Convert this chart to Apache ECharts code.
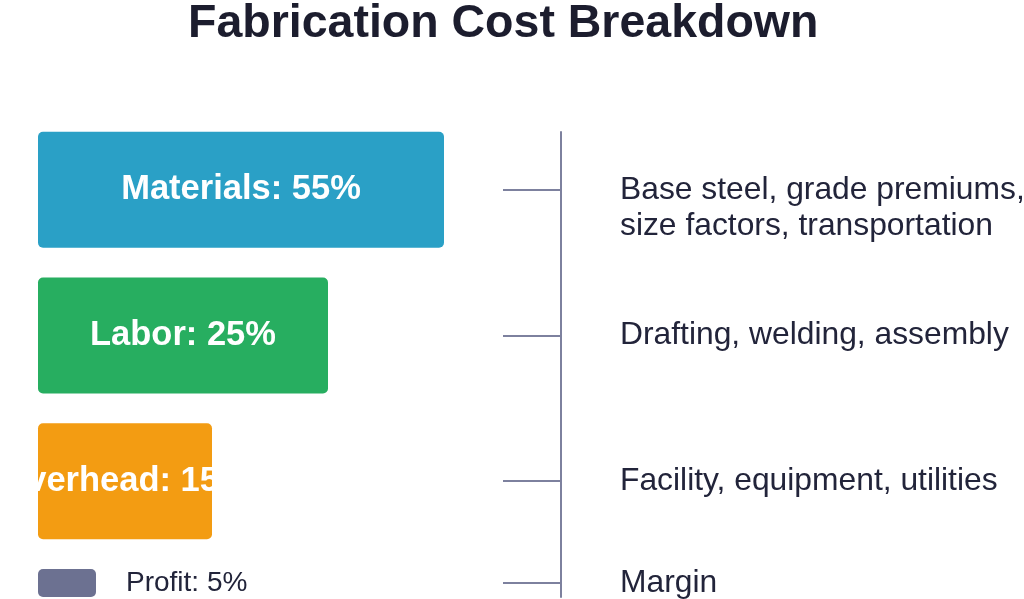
<!DOCTYPE html>
<html>
<head>
<meta charset="utf-8">
<title>Fabrication Cost Breakdown</title>
<script src="https://cdn.jsdelivr.net/npm/echarts@6/dist/echarts.min.js"></script>
<style>
  html, body { margin: 0; padding: 0; background: #fff; }
  #chart { width: 1024px; height: 599px; }
</style>
</head>
<body>
<div id="chart"></div>
<script>
// cost rows (top to bottom)
const categories = ['Materials', 'Labor', 'Overhead', 'Profit']
const shares = [55, 25, 15, 5]
const descriptions = [
  'Base steel, grade premiums,\nsize factors, transportation',
  'Drafting, welding, assembly',
  'Facility, equipment, utilities',
  'Margin'
]
const colors = ['#2aa0c6', '#27ae60', '#f39c12', '#6c7191']

const axisMax = 35 // bars past this are cut at the grid edge
const font = 'Liberation Sans, Arial, sans-serif'
const textColor = '#22243a'
const lineColor = '#7d819e'

// main rows and the small profit row live in separate grids
const mainCount = 3

function descLabel(i) {
  const d = descriptions[i]
  // keep first line on the tick for wrapped text
  return d.indexOf('\n') > -1 ? '\n' + d : d
}

function rowAxis(gridIndex, from, to) {
  return {
    type: 'category',
    gridIndex: gridIndex,
    data: categories.slice(from, to),
    inverse: true,
    position: 'right',
    offset: 117,
    axisLine: { show: false, onZero: false },
    axisTick: {
      show: true,
      alignWithLabel: true,
      inside: true,
      length: 58,
      lineStyle: { color: lineColor, width: 2 }
    },
    axisLabel: {
      margin: 59,
      fontFamily: font,
      fontSize: 31.8,
      lineHeight: 36,
      color: textColor,
      formatter: (v, i) => descLabel(from + i)
    }
  }
}

function valueAxis(gridIndex) {
  return { type: 'value', gridIndex: gridIndex, min: 0, max: axisMax, show: false }
}

const gridBase = { left: 38, width: 406, outerBoundsMode: 'none', containLabel: false }

const chart = echarts.init(document.getElementById('chart'))
chart.setOption({
  animation: false,
  title: {
    text: 'Fabrication Cost Breakdown',
    left: 183,
    top: -4,
    textStyle: { fontFamily: font, fontSize: 46.5, fontWeight: 'bold', color: '#1c1d2e' }
  },
  grid: [
    Object.assign({ top: 117, height: 437 }, gridBase),
    Object.assign({ top: 554, height: 58 }, gridBase),
    Object.assign({ top: 132, height: 465 }, gridBase) // bracket line only
  ],
  xAxis: [valueAxis(0), valueAxis(1), valueAxis(2)],
  yAxis: [
    rowAxis(0, 0, mainCount),
    rowAxis(1, mainCount, categories.length),
    {
      type: 'value',
      gridIndex: 2,
      position: 'right',
      offset: 117,
      min: 0,
      max: 1,
      axisLine: { show: true, onZero: false, lineStyle: { color: lineColor, width: 2 } },
      axisTick: { show: false },
      axisLabel: { show: false },
      splitLine: { show: false }
    }
  ],
  series: [
    {
      type: 'bar',
      xAxisIndex: 0,
      yAxisIndex: 0,
      barWidth: 116,
      data: shares.slice(0, mainCount).map((v, i) => ({ value: v, itemStyle: { color: colors[i] } })),
      itemStyle: { borderRadius: 5 },
      label: {
        show: true,
        position: 'inside',
        formatter: '{b}: {c}%',
        fontFamily: font,
        fontSize: 34.5,
        fontWeight: 'bold',
        color: '#fff'
      }
    },
    {
      type: 'bar',
      xAxisIndex: 1,
      yAxisIndex: 1,
      barWidth: 28,
      data: shares.slice(mainCount).map((v, i) => ({ value: v, itemStyle: { color: colors[mainCount + i] } })),
      itemStyle: { borderRadius: 5 },
      label: {
        show: true,
        position: 'right',
        distance: 30,
        formatter: '{b}: {c}%',
        fontFamily: font,
        fontSize: 28,
        color: textColor
      }
    }
  ]
})
</script>
</body>
</html>
